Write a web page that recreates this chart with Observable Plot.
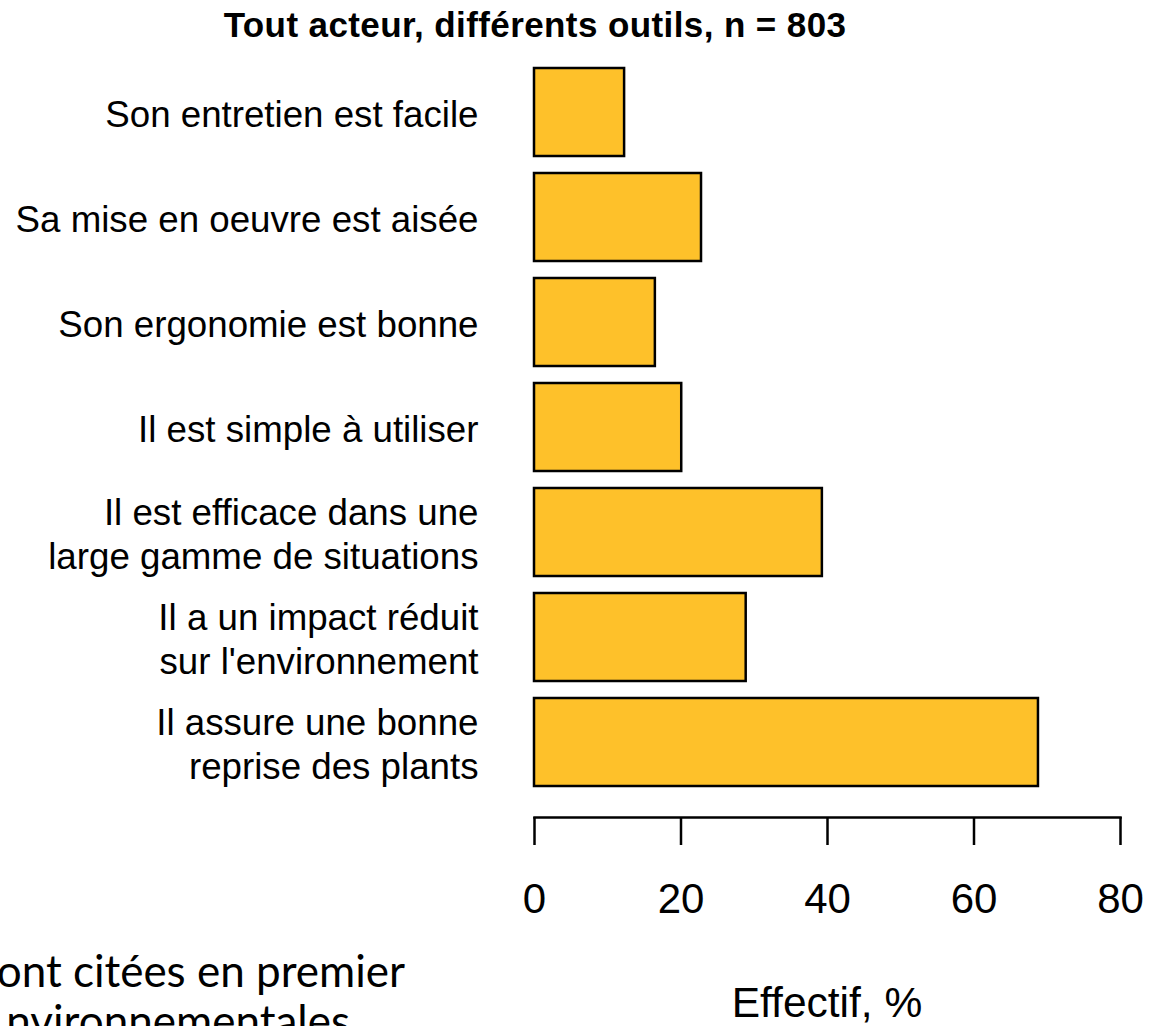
<!DOCTYPE html>
<html>
<head>
<meta charset="utf-8">
<script src="https://cdn.jsdelivr.net/npm/d3@7"></script>
<script src="https://cdn.jsdelivr.net/npm/@observablehq/plot@0.6"></script>
<style>
  html, body { margin: 0; padding: 0; background: white; }
  #wrap { position: relative; width: 1149px; height: 1026px; overflow: hidden; background: white; font-family: "Liberation Sans", Arial, sans-serif; }
  #chart { position: absolute; left: 0; top: 0; }
  #title { position: absolute; left: 0; width: 1070px; top: 5px; text-align: center; font-size: 35px; letter-spacing: 0.4px; line-height: 40px; font-weight: bold; color: black; white-space: nowrap; }
  #xlabel { position: absolute; left: 527px; width: 600px; top: 979px; text-align: center; font-size: 42.5px; line-height: 47px; color: black; white-space: nowrap; }
  .slide { position: absolute; font-family: Lato, "Open Sans", sans-serif; font-size: 44px; line-height: 50px; color: black; text-align: right; white-space: nowrap; }
</style>
</head>
<body>
<div id="wrap">
  <div id="chart"></div>
  <div id="title"></div>
  <div id="xlabel"></div>
  <div id="slide1" class="slide" style="right:744px; top:945px;"></div>
  <div id="slide2" class="slide" style="right:799px; top:995px;"></div>
</div>
<script>
const titleText = "Tout acteur, différents outils, n = 803";
const xLabel = "Effectif, %";
const categories = [
  "Son entretien est facile",
  "Sa mise en oeuvre est aisée",
  "Son ergonomie est bonne",
  "Il est simple à utiliser",
  "Il est efficace dans une\nlarge gamme de situations",
  "Il a un impact réduit\nsur l'environnement",
  "Il assure une bonne\nreprise des plants"
];
const values = [12.3, 22.8, 16.5, 20.1, 39.3, 28.9, 68.8];
const xTicks = [0, 20, 40, 60, 80];
const slideLines = ["ont citées en premier", "nvironnementales"];

const data = categories.map((c, i) => ({cat: c, value: values[i]}));

const chart = Plot.plot({
  width: 1149,
  height: 1026,
  marginLeft: 534,
  marginRight: 29,
  marginTop: 37,
  marginBottom: 209,
  x: {domain: [0, 80]},
  y: {domain: categories, paddingInner: 0.166, paddingOuter: 0.28},
  style: {fontFamily: "'Liberation Sans', Arial, sans-serif", background: "white", color: "black", overflow: "visible"},
  marks: [
    Plot.barX(data, {x: "value", y: "cat", fill: "#FEC12A", stroke: "black", strokeWidth: 2.5}),
    Plot.frame({anchor: "bottom", stroke: "black", strokeWidth: 2.5}),
    Plot.axisX({ticks: xTicks, tickSize: 28, tickPadding: 38, fontSize: 42, strokeWidth: 2.5, label: null}),
    Plot.axisY({tickSize: 0, tickPadding: 56, fontSize: 36.7, lineHeight: 1.2, label: null})
  ]
});
document.getElementById("chart").appendChild(chart);
document.getElementById("title").textContent = titleText;
document.getElementById("xlabel").textContent = xLabel;
document.getElementById("slide1").textContent = slideLines[0];
document.getElementById("slide2").textContent = slideLines[1];
</script>
</body>
</html>
